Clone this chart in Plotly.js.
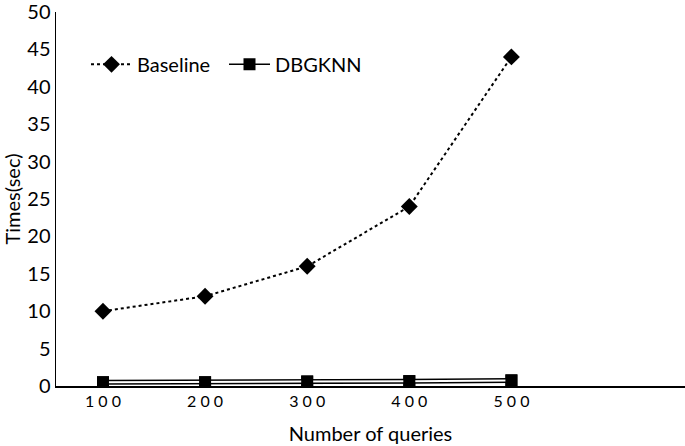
<!DOCTYPE html>
<html>
<head>
<meta charset="utf-8">
<script src="https://cdn.plot.ly/plotly-3.0.1.min.js"></script>
<style>html,body{margin:0;padding:0;background:#fff;}#chart{width:685px;height:446px;}</style>
</head>
<body>
<div id="chart"></div>
<script>
var queries = [100, 200, 300, 400, 500];
var baseline = [10, 12, 16, 24, 44];
var dbgknn = [0.5, 0.5, 0.6, 0.65, 0.75];
var tickVals = [100, 200, 300, 400, 500];
var tickText = ['1 0 0', '2 0 0', '3 0 0', '4 0 0', '5 0 0'];
var yTicks = [0, 5, 10, 15, 20, 25, 30, 35, 40, 45, 50];

var fontFam = 'Lato, "Open Sans", sans-serif';

var traces = [
  {
    x: queries, y: baseline, name: 'Baseline', type: 'scatter', mode: 'lines+markers',
    line: {color: '#000', width: 2, dash: 'dot'},
    marker: {symbol: 'diamond', size: 13, color: '#000'}
  },
  {
    x: queries, y: dbgknn, name: 'DBGKNN', type: 'scatter', mode: 'lines+markers',
    line: {color: '#000', width: 1.5},
    marker: {symbol: 'square', size: 12, color: '#000'}
  },
  {
    x: queries, y: dbgknn, name: 'DBGKNN-outer', type: 'scatter', mode: 'lines',
    line: {color: '#000', width: 5}, showlegend: false, hoverinfo: 'skip'
  },
  {
    x: queries, y: dbgknn, name: 'DBGKNN-inner', type: 'scatter', mode: 'lines',
    line: {color: '#fff', width: 2}, showlegend: false, hoverinfo: 'skip'
  },
  {
    x: queries, y: dbgknn, name: 'DBGKNN-markers', type: 'scatter', mode: 'markers',
    marker: {symbol: 'square', size: 12, color: '#000'}, showlegend: false, hoverinfo: 'skip'
  }
];

var layout = {
  width: 685, height: 446,
  margin: {l: 56, r: 0, t: 12, b: 60},
  paper_bgcolor: '#fff', plot_bgcolor: '#fff',
  font: {family: fontFam, color: '#000', size: 20},
  showlegend: true,
  legend: {
    orientation: 'h', x: 0.0477, y: 0.86, xanchor: 'left', yanchor: 'middle',
    font: {family: fontFam, size: 20, color: '#000'}, bgcolor: 'rgba(0,0,0,0)',
    itemwidth: 41, tracegroupgap: 0, entrywidth: 82, entrywidthmode: 'pixels'
  },
  xaxis: {
    range: [54, 670], tickvals: tickVals, ticktext: tickText,
    showgrid: false, zeroline: false, showline: true, linecolor: '#000', linewidth: 1.5,
    ticks: '', tickfont: {size: 16}, ticklen: 0,
    title: {text: 'Number of queries', font: {size: 20}, standoff: 18}
  },
  yaxis: {
    range: [0, 50], tickvals: yTicks,
    showgrid: false, zeroline: false, showline: true, linecolor: '#000', linewidth: 1.5,
    ticks: '', tickfont: {size: 20}, ticklabeloverflow: 'allow',
    title: {text: 'Times(sec)', font: {size: 20}, standoff: 4}
  }
};

Plotly.newPlot('chart', traces, layout, {displayModeBar: false, staticPlot: true});
</script>
</body>
</html>
